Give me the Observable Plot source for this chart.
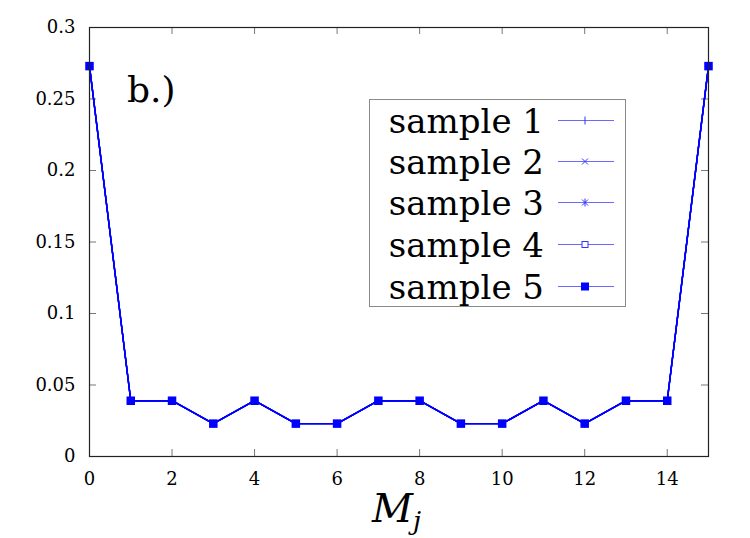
<!DOCTYPE html>
<html>
<head>
<meta charset="utf-8">
<script src="https://cdn.jsdelivr.net/npm/d3@7"></script>
<script src="https://cdn.jsdelivr.net/npm/@observablehq/plot@0.6"></script>
<style>
  html, body { margin: 0; padding: 0; background: #fff; }
  #wrap { position: relative; width: 750px; height: 538px; font-family: "DejaVu Serif", serif; }
  #wrap > svg { position: absolute; left: 0; top: 0; }
  .ov { position: absolute; color: #000; white-space: nowrap; }
  #legend { position: absolute; left: 369px; top: 99px; width: 257px; height: 208px; border: 1px solid #8a8a8a; box-sizing: border-box; background: #fff; }
  #legend .row { position: absolute; left: 0; width: 256px; height: 42px; }
  #legend .lbl { position: absolute; right: 82px; top: 0; font-size: 34px; line-height: 42px; }
  #legend .sw { position: absolute; left: 187px; top: 16px; }
</style>
</head>
<body>
<div id="wrap"></div>
<script>
const mj = [0, 1, 2, 3, 4, 5, 6, 7, 8, 9, 10, 11, 12, 13, 14, 15];
const sample1 = [0.273, 0.039, 0.039, 0.023, 0.039, 0.023, 0.023, 0.039, 0.039, 0.023, 0.023, 0.039, 0.023, 0.039, 0.039, 0.273];
const sample2 = [0.273, 0.039, 0.039, 0.023, 0.039, 0.023, 0.023, 0.039, 0.039, 0.023, 0.023, 0.039, 0.023, 0.039, 0.039, 0.273];
const sample3 = [0.273, 0.039, 0.039, 0.023, 0.039, 0.023, 0.023, 0.039, 0.039, 0.023, 0.023, 0.039, 0.023, 0.039, 0.039, 0.273];
const sample4 = [0.273, 0.039, 0.039, 0.023, 0.039, 0.023, 0.023, 0.039, 0.039, 0.023, 0.023, 0.039, 0.023, 0.039, 0.039, 0.273];
const sample5 = [0.273, 0.039, 0.039, 0.023, 0.039, 0.023, 0.023, 0.039, 0.039, 0.023, 0.023, 0.039, 0.023, 0.039, 0.039, 0.273];
const seriesNames = ["sample 1", "sample 2", "sample 3", "sample 4", "sample 5"];
const seriesValues = [sample1, sample2, sample3, sample4, sample5];
const xTicks = [0, 2, 4, 6, 8, 10, 12, 14];
const yTicks = [0, 0.05, 0.1, 0.15, 0.2, 0.25, 0.3];
const yTickLabels = ["0", "0.05", "0.1", "0.15", "0.2", "0.25", "0.3"];
const panelLabel = "b.)";

const W = 750, H = 538, mL = 89, mR = 42, mT = 27, mB = 82;
const pw = W - mL - mR, ph = H - mT - mB;
const blue = "#0000ff";
const tickLen = 7;
const FONT = '"DejaVu Serif", serif';

const symbols = ["plus", "times", "asterisk", "square", "square"];
const fills = ["none", "none", "none", "none", blue];
const strokes = [blue, blue, blue, blue, "none"];
const radii = [2.5, 2.2, 2.5, 2.5, 4.8];

const marks = [];
seriesValues.forEach((vals, i) => {
  const data = mj.map((m, k) => ({m, v: vals[k]}));
  marks.push(Plot.line(data, {x: "m", y: "v", stroke: blue, strokeWidth: 1.4}));
});
seriesValues.forEach((vals, i) => {
  const data = mj.map((m, k) => ({m, v: vals[k]}));
  marks.push(Plot.dot(data, {x: "m", y: "v", symbol: () => symbols[i], r: radii[i], fill: fills[i], stroke: strokes[i], strokeWidth: 1}));
});

const chart = Plot.plot({
  width: W, height: H,
  marginLeft: mL, marginRight: mR, marginTop: mT, marginBottom: mB,
  style: {fontFamily: FONT, background: "#fff", overflow: "visible"},
  symbol: {type: "identity"},
  x: {domain: [0, 15], axis: null},
  y: {domain: [0, 0.3], axis: null},
  marks: [
    Plot.tickY(yTicks.slice(1, -1), {y: d => d, stroke: "#777", strokeWidth: 1, insetRight: pw - tickLen}),
    Plot.tickY(yTicks.slice(1, -1), {y: d => d, stroke: "#777", strokeWidth: 1, insetLeft: pw - tickLen}),
    Plot.tickX(xTicks.slice(1), {x: d => d, stroke: "#777", strokeWidth: 1, insetTop: ph - tickLen}),
    Plot.tickX(xTicks.slice(1), {x: d => d, stroke: "#777", strokeWidth: 1, insetBottom: ph - tickLen}),
    Plot.text(yTicks, {x: 0, y: d => d, text: (d, i) => yTickLabels[i], textAnchor: "end", dx: -14, fontSize: 18, fill: "#000"}),
    Plot.text(xTicks, {x: d => d, y: 0, text: d => String(d), dy: 23, fontSize: 18, fill: "#000"}),
    ...marks,
    Plot.frame({stroke: "#222", strokeWidth: 1.2})
  ]
});

const wrap = document.getElementById("wrap");
wrap.appendChild(chart);

const pl = document.createElement("div");
pl.className = "ov";
pl.style.cssText = "left:127px; top:69px; font-size:36px; line-height:42px;";
pl.textContent = panelLabel;
wrap.appendChild(pl);

const xl = document.createElement("div");
xl.className = "ov";
xl.style.cssText = "left:372px; top:484px; font-size:40px; line-height:48px; font-style:italic;";
xl.innerHTML = 'M<sub style="font-size:26px; vertical-align:-8px;">j</sub>';
wrap.appendChild(xl);

const lg = document.createElement("div");
lg.id = "legend";
const rowTops = [0, 41, 82, 124, 166];
const sym = [
  '<line x1="28" y1="0.5" x2="28" y2="8.5" stroke="#3333ff"/>',
  '<line x1="25" y1="1.5" x2="31" y2="7.5" stroke="#3333ff"/><line x1="25" y1="7.5" x2="31" y2="1.5" stroke="#3333ff"/>',
  '<line x1="25" y1="1.5" x2="31" y2="7.5" stroke="#3333ff"/><line x1="25" y1="7.5" x2="31" y2="1.5" stroke="#3333ff"/><line x1="28" y1="0.5" x2="28" y2="8.5" stroke="#3333ff"/>',
  '<rect x="25" y="1.5" width="6" height="6" fill="#fff" stroke="#3333ff"/>',
  '<rect x="24" y="0.5" width="8" height="8" fill="#0000ff"/>'
];
seriesNames.forEach((name, i) => {
  const r = document.createElement("div");
  r.className = "row";
  r.style.top = rowTops[i] + "px";
  r.innerHTML = `<span class="lbl">${name}</span><svg class="sw" width="58" height="9"><line x1="1" y1="4.5" x2="57" y2="4.5" stroke="#6a6aff" stroke-width="1"/>${sym[i]}</svg>`;
  lg.appendChild(r);
});
wrap.appendChild(lg);
</script>
</body>
</html>
